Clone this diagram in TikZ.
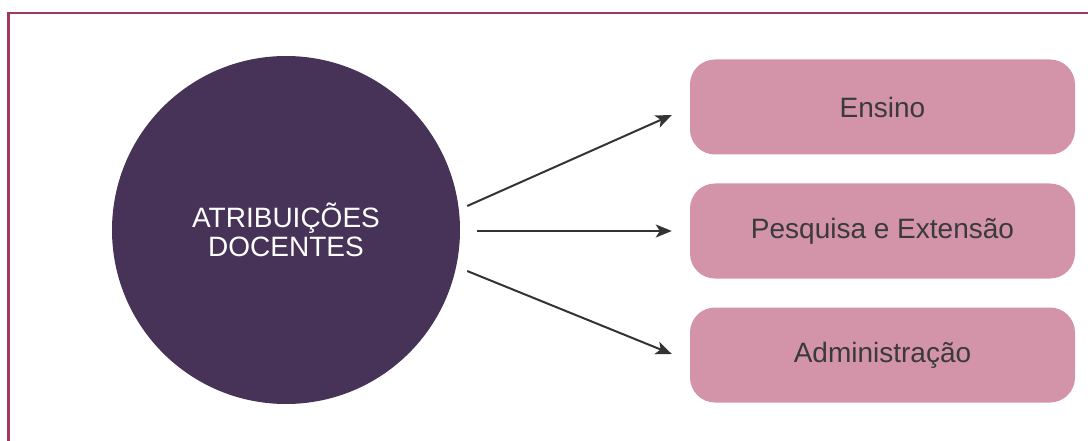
\documentclass[tikz,border=0pt]{standalone}
\usepackage{fontspec}
\setmainfont{Liberation Sans}
\usetikzlibrary{arrows.meta}
\definecolor{framec}{HTML}{9C3A5F}
\definecolor{circc}{HTML}{463357}
\definecolor{boxc}{HTML}{D393A9}
\definecolor{textc}{HTML}{3A3A3C}
\definecolor{arrc}{HTML}{333333}
\tikzset{
  hub/.style={circle, fill=circc, draw=none, minimum size=348pt, inner sep=0pt,
    text=white, align=center, font=\fontsize{28}{29.5}\selectfont},
  item/.style={rectangle, rounded corners=25pt, fill=boxc, draw=none,
    minimum width=385pt, minimum height=95pt, inner sep=0pt,
    text=textc, font=\fontsize{28}{30}\selectfont},
  conn/.style={draw=arrc, line width=2pt, -{Stealth[length=16pt,width=13pt,inset=4pt]}}
}
\begin{document}
\begin{tikzpicture}[x=1pt,y=-1pt]
\useasboundingbox (0,0) rectangle (1088,441);
\begin{scope}
\clip (0,0) rectangle (1088,441);
\draw[framec, line width=2.4pt] (8.5,13) rectangle (1110,470);
\end{scope}
\node[hub] (c) at (286,230) {ATRIBUIÇÕES\\DOCENTES};
\node[item] (b1) at (882.5,107) {Ensino};
\node[item] (b2) at (882.5,231) {Pesquisa e Extensão};
\node[item] (b3) at (882.5,355) {Administração};
\coordinate (s1) at ([shift={(7,-24)}]c.east);
\coordinate (s2) at ([shift={(17,1)}]c.east);
\coordinate (s3) at ([shift={(7,41)}]c.east);
\coordinate (e1) at ([shift={(-18,8)}]b1.west);
\coordinate (e2) at ([shift={(-18,0)}]b2.west);
\coordinate (e3) at ([shift={(-18,-1)}]b3.west);
\draw[conn] (s1) -- (e1);
\draw[conn] (s2) -- (e2);
\draw[conn] (s3) -- (e3);
\end{tikzpicture}
\end{document}
